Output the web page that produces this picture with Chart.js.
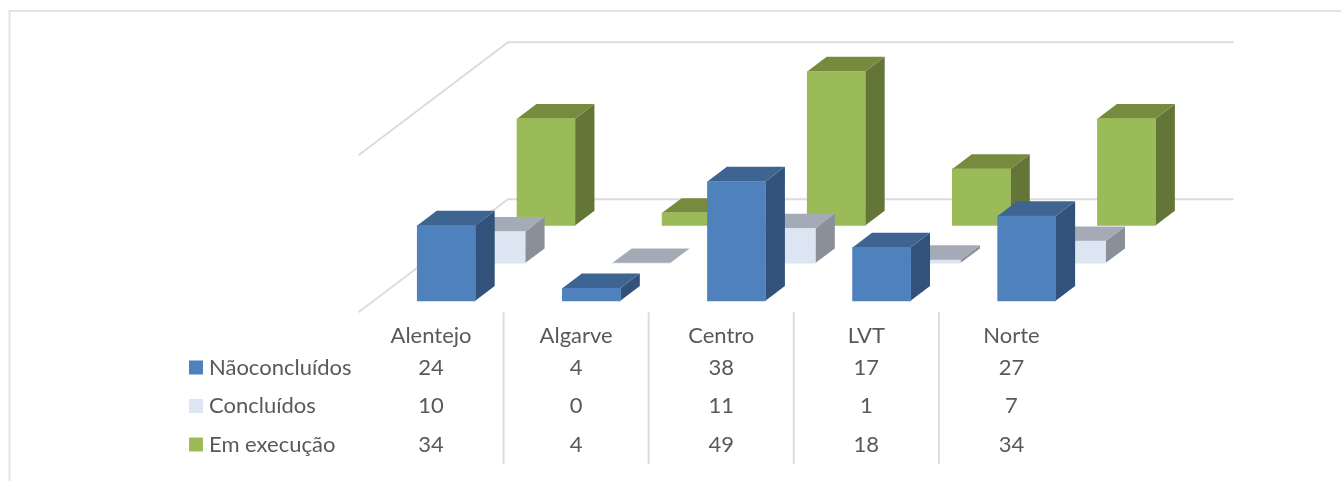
<!DOCTYPE html>
<html lang="pt">
<head>
<meta charset="utf-8">
<style>html,body{margin:0;padding:0;background:#fff}canvas{display:block}</style>
<script src="https://cdn.jsdelivr.net/npm/chart.js@4/dist/chart.umd.min.js"></script>
</head>
<body>
<canvas id="c" width="1341" height="481"></canvas>
<script>
const categories = ['Alentejo', 'Algarve', 'Centro', 'LVT', 'Norte'];
const seriesNames = ['Nãoconcluídos', 'Concluídos', 'Em execução'];
const naoConcluidos = [24, 4, 38, 17, 27];
const concluidos = [10, 0, 11, 1, 7];
const emExecucao = [34, 4, 49, 18, 34];
const seriesValues = [naoConcluidos, concluidos, emExecucao];
const faceFront = ['#4f81bd', '#dce6f2', '#9bbb59'];
const faceTop = ['#3e6491', '#a5abb6', '#778b3f'];
const faceSide = ['#32527b', '#8a9099', '#647637'];

const SLOPE = 1.323, SLOT = 37.7, BAR_DEPTH = 14.7, GAP = 11.5, FLOOR_DEPTH = 113;
const TEXT = '#595959', LINE = '#dcdcdc';
const FONT = 'Lato';
const FONT_SIZE = 22;
const ROW_Y = [367.5, 406, 444.5];

const depth3d = {
  id: 'depth3d',
  afterLayout(chart) {
    const a = chart.chartArea;
    seriesNames.forEach((_, s) => {
      const d = GAP + s * SLOT;
      const xs = chart.scales['xs' + s], ys = chart.scales['ys' + s];
      xs.left = a.left + d * SLOPE; xs.right = a.right + d * SLOPE;
      ys.top = a.top - d; ys.bottom = a.bottom - d;
      xs.configure(); ys.configure();
    });
  },
  beforeDatasetsDraw(chart) {
    const ctx = chart.ctx, a = chart.chartArea, y = chart.scales.y;
    ctx.save();
    ctx.strokeStyle = LINE; ctx.lineWidth = 2;
    y.ticks.forEach(t => {
      const py = y.getPixelForValue(t.value);
      ctx.beginPath();
      ctx.moveTo(a.left, py);
      ctx.lineTo(a.left + FLOOR_DEPTH * SLOPE, py - FLOOR_DEPTH);
      ctx.lineTo(a.right + FLOOR_DEPTH * SLOPE, py - FLOOR_DEPTH);
      ctx.stroke();
    });
    ctx.restore();
  },
  beforeDatasetDraw(chart, args) {
    const ctx = chart.ctx, s = args.index;
    const dx = BAR_DEPTH * SLOPE, dy = BAR_DEPTH;
    ctx.save();
    args.meta.data.forEach(b => {
      const l = b.x - b.width / 2, r = b.x + b.width / 2, t = b.y, bt = b.base;
      ctx.fillStyle = faceSide[s];
      ctx.beginPath();
      ctx.moveTo(r, t); ctx.lineTo(r + dx, t - dy); ctx.lineTo(r + dx, bt - dy); ctx.lineTo(r, bt);
      ctx.closePath(); ctx.fill();
      ctx.fillStyle = faceTop[s];
      ctx.beginPath();
      ctx.moveTo(l, t); ctx.lineTo(l + dx, t - dy); ctx.lineTo(r + dx, t - dy); ctx.lineTo(r, t);
      ctx.closePath(); ctx.fill();
    });
    ctx.restore();
  },
  afterDraw(chart) {
    const ctx = chart.ctx, a = chart.chartArea, x = chart.scales.x;
    ctx.save();
    // outer frame
    ctx.strokeStyle = '#e2e2e2';
    ctx.lineWidth = 2;
    ctx.beginPath();
    ctx.moveTo(9.5, chart.height); ctx.lineTo(9.5, 11); ctx.lineTo(chart.width, 11);
    ctx.stroke();
    // table dividers
    ctx.strokeStyle = LINE; ctx.lineWidth = 2;
    categories.forEach((_, i) => {
      if (i === categories.length - 1) return;
      const px = (x.getPixelForValue(i) + x.getPixelForValue(i + 1)) / 2;
      ctx.beginPath(); ctx.moveTo(px, a.bottom); ctx.lineTo(px, 464); ctx.stroke();
    });
    // legend keys, names and values
    ctx.font = FONT_SIZE + 'px ' + FONT;
    ctx.fillStyle = TEXT;
    ctx.textBaseline = 'middle';
    seriesNames.forEach((name, s) => {
      const ry = ROW_Y[s];
      ctx.fillStyle = faceFront[s];
      ctx.fillRect(189, ry - 7, 14, 14);
      ctx.fillStyle = TEXT;
      ctx.textAlign = 'left';
      ctx.fillText(name, 209, ry);
      ctx.textAlign = 'center';
      seriesValues[s].forEach((v, i) => ctx.fillText(String(v), x.getPixelForValue(i), ry));
    });
    ctx.restore();
  }
};

const scales = {
  x: {
    type: 'category', position: 'bottom', offset: true,
    grid: { display: false, drawTicks: false }, border: { display: false },
    ticks: { color: TEXT, font: { family: FONT, size: FONT_SIZE }, padding: 10, maxRotation: 0, autoSkip: false },
    afterFit(s) { s.height = 168.7; }
  },
  y: { type: 'linear', display: false, min: 0, max: 50, ticks: { stepSize: 50 } }
};
seriesNames.forEach((_, s) => {
  scales['xs' + s] = { type: 'category', display: false, offset: true, axis: 'x' };
  scales['ys' + s] = { type: 'linear', display: false, min: 0, max: 50, axis: 'y' };
});

new Chart(document.getElementById('c'), {
  type: 'bar',
  data: {
    labels: categories,
    datasets: seriesNames.map((name, s) => ({
      label: name,
      data: seriesValues[s],
      xAxisID: 'xs' + s,
      yAxisID: 'ys' + s,
      backgroundColor: faceFront[s],
      grouped: false,
      barThickness: 58,
      clip: false
    }))
  },
  options: {
    responsive: false,
    animation: false,
    layout: { padding: { left: 358.5, right: 257, top: 155.3, bottom: 0 } },
    plugins: { legend: { display: false }, tooltip: { enabled: false } },
    scales
  },
  plugins: [depth3d]
});
</script>
</body>
</html>
